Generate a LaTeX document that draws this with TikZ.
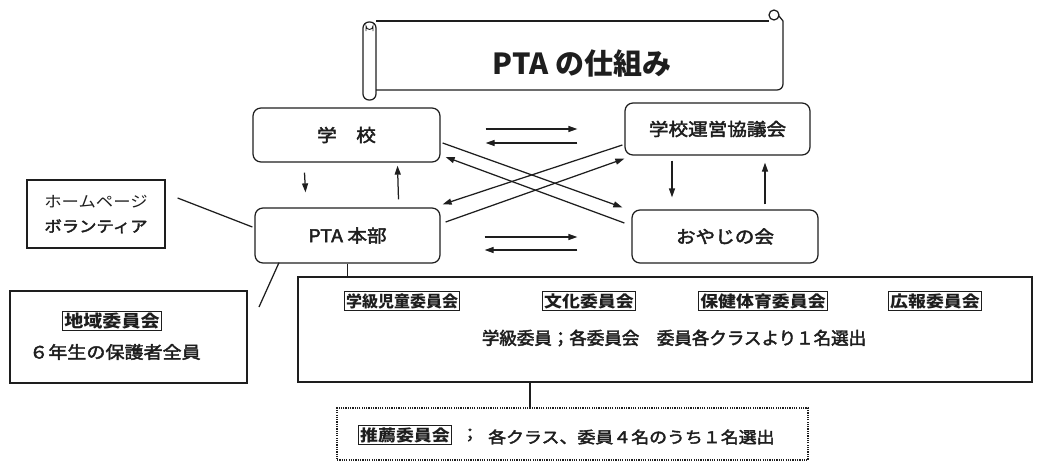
\documentclass[tikz,border=0pt]{standalone}
\usepackage{fontspec}
\setmainfont{Noto Sans CJK JP}[FakeStretch=1.12]
\newfontfamily\jpn{Noto Sans CJK JP}
\newfontfamily\jpm{Noto Sans CJK JP}[FakeStretch=1.12,FakeBold=2.5]
\newfontfamily\jpmn{Noto Sans CJK JP}[FakeBold=2.5]
\usetikzlibrary{calc,arrows.meta}
\definecolor{ink}{HTML}{1E1E1E}
\tikzset{
  ln/.style={draw=ink,line width=1.25pt},
  arr/.style={ln,-{Triangle[length=9pt,width=6pt]}},
  rbox/.style={ln,rounded corners=8pt,inner sep=0pt},
  sbox/.style={ln,inner sep=0pt},
  tag/.style={ln,line width=0.9pt,inner sep=1.5pt,text=ink,font=\fontsize{16}{16}\selectfont\bfseries},
  lbl/.style={text=ink,inner sep=0pt,font=\jpm\fontsize{17.5}{18}\selectfont},
}
\begin{document}
\begin{tikzpicture}[x=1pt,y=-1pt]
\useasboundingbox (0,0) rectangle (1038,463);
% scroll banner
\draw[ln] (376,21) -- (769,21);
\draw[ln] (774,15) circle (5);
\draw[ln] (779,16) -- (783,21) -- (783,84) arc[start angle=0,end angle=90,radius=6] -- (376,90);
\draw[ln,rounded corners=6pt] (363,22) rectangle (376,100);
\draw[ln,line width=0.9pt] (366,31) -- (366,26) arc[start angle=180,end angle=0,radius=3.5] -- (373,31);
\node[text=ink,inner sep=0pt,font=\jpn\fontsize{29}{29}\selectfont\bfseries] (title) at (582,63) {PTA の仕組み};
% main boxes
\node[rbox,minimum width=187pt,minimum height=54pt] (gakko) at (346.5,135) {};
\node[lbl] (gakkot) at (gakko) {学　校};
\node[rbox,minimum width=185pt,minimum height=55pt] (pta) at (347.5,235.5) {};
\node[lbl] (ptat) at (pta) {PTA 本部};
\node[rbox,minimum width=185pt,minimum height=52pt] (unei) at (717.5,129) {};
\node[lbl] (ueit) at (unei) {学校運営協議会};
\node[rbox,minimum width=186pt,minimum height=53pt] (oyaji) at (725,236.5) {};
\node[lbl] (oyajit) at (oyaji) {おやじの会};
\node[sbox,minimum width=138pt,minimum height=68pt] (hp) at (96,214) {};
\node[text=ink,inner sep=0pt,align=center,font=\fontsize{15.5}{25}\selectfont] (hpt) at (hp) {ホームページ\\{\jpm ボランティア}};
% lower boxes
\node[sbox,minimum width=237pt,minimum height=92pt] (chiiki) at (128.5,337) {};
\node[tag,font=\fontsize{17}{17}\selectfont\bfseries] (chiikit) at (112,321) {地域委員会};
\node[text=ink,inner sep=0pt,font=\jpm\fontsize{17}{17}\selectfont] (roku) at (115,352) {６年生の保護者全員};
\node[sbox,minimum width=734pt,minimum height=105pt] (big) at (665,329.5) {};
\node[tag,font=\jpn\fontsize{16}{16}\selectfont\bfseries] (t1) at (402,301) {学級児童委員会};
\node[tag] (t2) at (589,301) {文化委員会};
\node[tag] (t3) at (763,301) {保健体育委員会};
\node[tag] (t4) at (935,301) {広報委員会};
\node[text=ink,inner sep=0pt,font=\jpmn\fontsize{17.5}{17.5}\selectfont] (gk) at (674,338) {学級委員；各委員会　委員各クラスより１名選出};
\node[ln,dash pattern=on 1.2pt off 1.1pt,line width=1.6pt,minimum width=471pt,minimum height=52pt,inner sep=0pt] (sui) at (572.5,434) {};
\node[tag] (t5) at (405,435) {推薦委員会};
\node[text=ink,inner sep=0pt,font=\jpm\fontsize{16}{16}\selectfont] (semi) at (470,435) {；};
\node[text=ink,inner sep=0pt,anchor=west,font=\jpm\fontsize{16}{16}\selectfont] (sut) at (488,437) {各クラス、委員４名のうち１名選出};
% vertical arrows left
\draw[arr] ($(gakko.south)+(-42,10)$) -- ($(pta.north)+(-42,-15)$);
\draw[arr] ($(pta.north)+(51,-8)$) -- ($(gakko.south)+(51,3)$);
% vertical arrows right
\draw[arr] ($(unei.south)+(-45.5,5)$) -- ($(oyaji.north)+(-53,-12)$);
\draw[arr] ($(oyaji.north)+(40,-5)$) -- ($(unei.south)+(47.5,7)$);
% horizontal arrows
\draw[arr] ($(gakko.east)+(45,-6)$) -- ($(unei.west)+(-47,0)$);
\draw[arr] ($(unei.west)+(-47,14)$) -- ($(gakko.east)+(45,8)$);
\draw[arr] ($(pta.east)+(44,1.5)$) -- ($(oyaji.west)+(-54,0.5)$);
\draw[arr] ($(oyaji.west)+(-54,13.5)$) -- ($(pta.east)+(44,14.5)$);
% cross arrows
\draw[arr] ($(gakko.east)+(2,8)$) -- ($(oyaji.north west)+(-9,-2)$);
\draw[arr] ($(oyaji.west)+(-7,-13.5)$) -- ($(gakko.east)+(5,22)$);
\draw[arr] ($(unei.west)+(-2,16)$) -- ($(pta.north east)+(2,-3)$);
\draw[arr] ($(pta.east)+(5,-13.5)$) -- ($(unei.south west)+(0,3)$);
% plain lines
\draw[ln] ($(hp.east)+(12,-16)$) -- ($(pta.west)+(-2,-8.5)$);
\coordinate (cfree) at (259,307);
\draw[ln] ($(pta.south)+(-68.5,-1)$) -- (cfree);
\draw[ln] (pta.south) -- (pta.south |- big.north);
\coordinate (b1) at ($(big.south)+(-135,0)$);
\draw[ln] (b1) -- (b1 |- sui.north);
\end{tikzpicture}
\end{document}
